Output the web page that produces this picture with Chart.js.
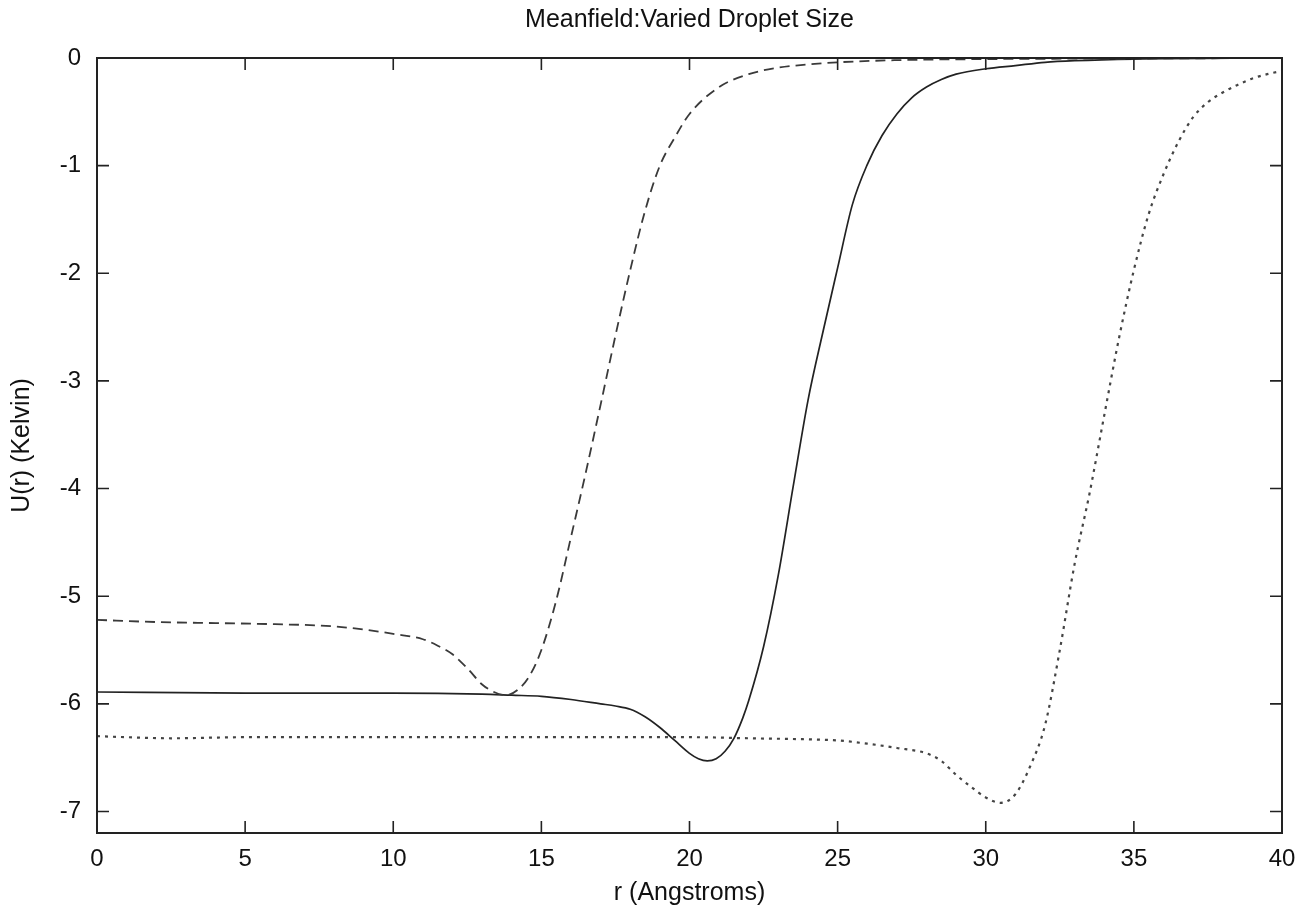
<!DOCTYPE html>
<html>
<head>
<meta charset="utf-8">
<title>Meanfield: Varied Droplet Size</title>
<script src="https://cdn.jsdelivr.net/npm/chart.js@4.4.1/dist/chart.umd.min.js"></script>
<style>
  html, body { margin: 0; padding: 0; background: #fff; }
  #wrap { width: 1313px; height: 919px; }
</style>
</head>
<body>
<div id="wrap"><canvas id="myChart" width="1313" height="919"></canvas></div>
<script>
///////////// DATA /////////////

// dashed curve (smallest droplet)
const rDashed = [0, 2, 4, 6, 8, 9, 10, 11, 11.5, 12, 12.5, 13, 13.4, 13.8, 14.2, 14.6, 15, 15.5, 16, 16.5, 17, 17.5, 18, 18.5, 19, 19.5, 20, 21, 22, 23, 24, 25, 27, 30, 35, 40];
const uDashed = [-5.22, -5.24, -5.25, -5.26, -5.28, -5.31, -5.35, -5.40, -5.46, -5.54, -5.67, -5.82, -5.89, -5.92, -5.87, -5.74, -5.5, -5.04, -4.45, -3.85, -3.22, -2.58, -1.97, -1.42, -1.0, -0.74, -0.52, -0.27, -0.15, -0.09, -0.06, -0.04, -0.02, -0.01, -0.005, 0];

// solid curve (middle droplet)
const rSolid = [0, 5, 10, 13, 14, 15, 16, 17, 17.5, 18, 18.5, 19, 19.5, 20, 20.3, 20.6, 20.9, 21.2, 21.5, 21.8, 22, 22.5, 23, 23.5, 24, 24.5, 25, 25.5, 26, 26.5, 27, 27.5, 28, 28.5, 29, 30, 31, 32, 33, 35, 40];
const uSolid = [-5.89, -5.9, -5.9, -5.91, -5.92, -5.93, -5.96, -6.0, -6.02, -6.05, -6.12, -6.22, -6.34, -6.46, -6.51, -6.53, -6.51, -6.44, -6.32, -6.13, -5.97, -5.47, -4.8, -3.98, -3.18, -2.55, -1.95, -1.36, -0.99, -0.72, -0.52, -0.37, -0.27, -0.2, -0.15, -0.1, -0.07, -0.04, -0.025, -0.01, 0];

// dotted curve (largest droplet)
const rDotted = [0, 1, 2.5, 5, 10, 15, 20, 22, 24, 25, 26, 27, 28, 28.5, 29, 29.5, 30, 30.5, 31, 31.5, 32, 32.5, 33, 33.5, 34, 34.5, 35, 35.5, 36, 36.5, 37, 37.5, 38, 38.5, 39, 39.5, 40];
const uDotted = [-6.30, -6.31, -6.32, -6.31, -6.31, -6.31, -6.31, -6.32, -6.33, -6.34, -6.37, -6.41, -6.46, -6.53, -6.66, -6.77, -6.87, -6.92, -6.84, -6.58, -6.2, -5.5, -4.7, -4.05, -3.32, -2.6, -1.97, -1.45, -1.08, -0.78, -0.55, -0.41, -0.32, -0.25, -0.19, -0.15, -0.12];

const xTicks = [0, 5, 10, 15, 20, 25, 30, 35, 40];
const yTicks = [0, -1, -2, -3, -4, -5, -6, -7];

const toPoints = (rs, us) => rs.map((r, i) => ({ x: r, y: us[i] }));

const FONT = '"Liberation Sans", Arial, Helvetica, sans-serif';

///////////// FRAME + INWARD TICKS (gnuplot style) /////////////

const gnuFrame = {
  id: 'gnuFrame',
  afterDatasetsDraw(chart) {
    const { ctx, chartArea: a, scales } = chart;
    const len = 12;
    ctx.save();
    ctx.strokeStyle = '#222';
    ctx.lineWidth = 1.6;
    ctx.beginPath();
    xTicks.forEach(v => {
      const px = scales.x.getPixelForValue(v);
      ctx.moveTo(px, a.bottom); ctx.lineTo(px, a.bottom - len);
      ctx.moveTo(px, a.top);    ctx.lineTo(px, a.top + len);
    });
    yTicks.forEach(v => {
      const py = scales.y.getPixelForValue(v);
      ctx.moveTo(a.left, py);  ctx.lineTo(a.left + len, py);
      ctx.moveTo(a.right, py); ctx.lineTo(a.right - len, py);
    });
    ctx.stroke();
    ctx.lineWidth = 2;
    ctx.strokeRect(a.left, a.top, a.right - a.left, a.bottom - a.top);
    ctx.restore();
  }
};

///////////// CHART /////////////

const ctx = document.getElementById('myChart').getContext('2d');
new Chart(ctx, {
  type: 'line',
  data: {
    datasets: [
      {
        label: 'dashed',
        data: toPoints(rDashed, uDashed),
        borderColor: '#3a3a3a',
        borderWidth: 1.8,
        borderDash: [10, 6],
        cubicInterpolationMode: 'monotone'
      },
      {
        label: 'solid',
        data: toPoints(rSolid, uSolid),
        borderColor: '#222',
        borderWidth: 1.7,
        cubicInterpolationMode: 'monotone'
      },
      {
        label: 'dotted',
        data: toPoints(rDotted, uDotted),
        borderColor: '#444',
        borderWidth: 2.2,
        borderDash: [3, 5],
        cubicInterpolationMode: 'monotone'
      }
    ]
  },
  options: {
    responsive: false,
    animation: false,
    layout: { padding: { left: 0, right: 31, top: 0, bottom: 0 } },
    elements: { point: { radius: 0 } },
    plugins: {
      legend: { display: false },
      tooltip: { enabled: false },
      title: {
        display: true,
        fullSize: false,   // centre over the plot box, like gnuplot
        text: 'Meanfield:Varied Droplet Size',
        color: '#111',
        font: { family: FONT, size: 25, weight: 'normal' },
        padding: { top: 5, bottom: 23 }
      }
    },
    scales: {
      x: {
        type: 'linear',
        min: 0,
        max: 40,
        afterBuildTicks: s => { s.ticks = xTicks.map(v => ({ value: v })); },
        afterFit: s => { s.height = 86; },
        grid: { display: false, drawTicks: false },
        border: { display: false },
        ticks: { color: '#111', padding: 12, maxRotation: 0, font: { family: FONT, size: 24 } },
        title: { display: true, text: 'r (Angstroms)', color: '#111', padding: { top: 0, bottom: 11 }, font: { family: FONT, size: 25 } }
      },
      y: {
        type: 'linear',
        min: -7.2,
        max: 0,
        afterBuildTicks: s => { s.ticks = yTicks.map(v => ({ value: v })); },
        afterFit: s => { s.width = 97; },
        grid: { display: false, drawTicks: false },
        border: { display: false },
        ticks: { color: '#111', padding: 16, font: { family: FONT, size: 24 } },
        title: { display: true, text: 'U(r) (Kelvin)', color: '#111', padding: { top: 7, bottom: 0 }, font: { family: FONT, size: 25 } }
      }
    }
  },
  plugins: [gnuFrame]
});
</script>
</body>
</html>
